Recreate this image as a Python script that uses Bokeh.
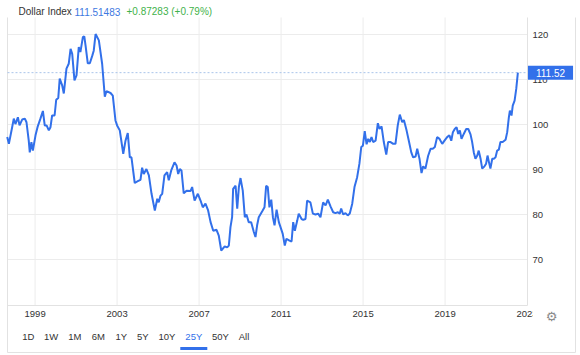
from bokeh.plotting import figure
from bokeh.models import ColumnDataSource, Range1d, FixedTicker, Label, BoxAnnotation
from bokeh.embed import file_html
from bokeh.resources import INLINE

# ---------------- data ----------------
years = [
    1997.64, 1997.72, 1997.88, 1997.96, 1998.04, 1998.16, 1998.24, 1998.37, 1998.50, 1998.58,
    1998.69, 1998.74, 1998.82, 1998.89, 1999.02, 1999.13, 1999.26, 1999.38, 1999.47, 1999.56,
    1999.67, 1999.75, 1999.83, 1999.95, 2000.03, 2000.13, 2000.20, 2000.32, 2000.40, 2000.53,
    2000.64, 2000.73, 2000.81, 2000.92, 2001.02, 2001.13, 2001.21, 2001.33, 2001.40, 2001.46,
    2001.57, 2001.67, 2001.79, 2001.86, 2001.95, 2002.11, 2002.27, 2002.40, 2002.48, 2002.68,
    2002.79, 2002.92, 2003.00, 2003.13, 2003.30, 2003.41, 2003.52, 2003.62, 2003.70, 2003.86,
    2004.01, 2004.14, 2004.22, 2004.30, 2004.43, 2004.55, 2004.68, 2004.84, 2004.96, 2005.03,
    2005.12, 2005.20, 2005.31, 2005.44, 2005.52, 2005.64, 2005.80, 2005.90, 2005.98, 2006.06,
    2006.14, 2006.25, 2006.39, 2006.58, 2006.66, 2006.78, 2006.94, 2007.07, 2007.18, 2007.31,
    2007.44, 2007.56, 2007.69, 2007.85, 2007.96, 2008.08, 2008.25, 2008.37, 2008.45, 2008.53,
    2008.61, 2008.66, 2008.78, 2008.86, 2008.94, 2009.02, 2009.13, 2009.23, 2009.31, 2009.42,
    2009.54, 2009.67, 2009.75, 2009.83, 2009.91, 2010.08, 2010.19, 2010.27, 2010.35, 2010.43,
    2010.52, 2010.60, 2010.68, 2010.78, 2010.89, 2011.00, 2011.08, 2011.18, 2011.26, 2011.41,
    2011.51, 2011.59, 2011.67, 2011.79, 2011.86, 2012.00, 2012.08, 2012.19, 2012.27, 2012.43,
    2012.55, 2012.68, 2012.81, 2012.92, 2013.05, 2013.17, 2013.28, 2013.41, 2013.54, 2013.65,
    2013.77, 2013.86, 2013.93, 2014.03, 2014.14, 2014.25, 2014.35, 2014.47, 2014.58, 2014.71,
    2014.82, 2014.91, 2014.99, 2015.08, 2015.17, 2015.25, 2015.33, 2015.41, 2015.49, 2015.61,
    2015.72, 2015.80, 2015.90, 2016.01, 2016.13, 2016.22, 2016.34, 2016.47, 2016.58, 2016.69,
    2016.79, 2016.91, 2016.99, 2017.12, 2017.23, 2017.35, 2017.44, 2017.56, 2017.64, 2017.75,
    2017.85, 2017.93, 2018.04, 2018.17, 2018.29, 2018.40, 2018.50, 2018.61, 2018.73, 2018.86,
    2018.97, 2019.10, 2019.21, 2019.30, 2019.38, 2019.47, 2019.56, 2019.64, 2019.72, 2019.80,
    2019.91, 2020.03, 2020.13, 2020.24, 2020.32, 2020.40, 2020.48, 2020.57, 2020.64, 2020.73,
    2020.81, 2020.92, 2021.00, 2021.07, 2021.13, 2021.21, 2021.30, 2021.38, 2021.46, 2021.54,
    2021.62, 2021.70, 2021.81, 2021.95, 2022.03, 2022.11, 2022.16, 2022.24, 2022.30, 2022.39,
    2022.47, 2022.55,
]
dollar_index = [
    97.2, 95.7, 99.4, 101.3, 100.1, 101.6, 99.8, 101.1, 101.3, 100.5,
    96.4, 93.8, 96.1, 94.2, 97.6, 99.6, 101.3, 103.0, 99.8, 99.8,
    98.7, 99.4, 102.0, 102.0, 105.5, 105.9, 110.2, 108.7, 106.9, 112.4,
    113.5, 116.8, 115.7, 109.8, 110.9, 117.2, 116.1, 119.4, 119.6, 117.6,
    113.6, 113.6, 115.3, 116.4, 120.1, 118.7, 113.5, 106.2, 107.4, 107.0,
    106.4, 100.9, 99.8, 98.7, 93.5, 96.4, 98.1, 92.7, 92.7, 87.0,
    87.4, 87.7, 90.4, 89.0, 90.1, 88.7, 84.6, 80.9, 83.5, 82.7,
    84.2, 84.6, 88.7, 89.4, 87.6, 89.8, 91.6, 90.9, 89.0, 90.1,
    89.8, 84.7, 85.3, 85.2, 86.1, 83.1, 84.6, 83.1, 81.6, 82.4,
    80.9, 78.3, 76.4, 76.6, 75.3, 72.0, 72.9, 72.7, 73.1, 77.2,
    79.4, 85.7, 86.4, 81.3, 86.1, 88.1, 85.3, 79.4, 80.0, 78.3,
    78.3, 76.1, 75.0, 77.6, 79.4, 80.7, 81.6, 86.4, 86.1, 81.6,
    83.3, 79.4, 77.6, 81.1, 78.3, 76.8, 75.7, 73.1, 74.6, 74.2,
    74.0, 78.3, 76.4, 78.7, 80.2, 79.0, 78.8, 79.0, 83.1, 82.7,
    80.2, 80.0, 80.2, 79.4, 82.7, 82.0, 83.3, 81.8, 80.5, 80.3,
    80.5, 80.2, 81.3, 80.0, 80.3, 79.8, 80.2, 82.4, 86.1, 88.3,
    91.3, 95.0, 95.3, 98.5, 95.6, 96.8, 96.1, 97.2, 96.1, 96.4,
    100.3, 99.0, 99.6, 96.1, 93.3, 96.1, 96.1, 95.7, 95.7, 99.8,
    102.2, 100.5, 101.0, 98.7, 96.4, 93.8, 92.7, 92.9, 94.6, 92.4,
    89.2, 90.7, 90.2, 93.0, 94.6, 94.6, 95.0, 97.2, 96.8, 95.7,
    96.4, 97.2, 97.6, 96.4, 98.3, 99.0, 99.4, 97.9, 98.7, 96.8,
    97.9, 99.0, 99.0, 97.8, 96.1, 93.8, 92.4, 93.1, 94.2, 92.4,
    90.2, 90.7, 91.3, 93.1, 91.8, 90.2, 92.4, 92.4, 92.7, 94.2,
    94.4, 96.1, 96.1, 96.6, 98.3, 101.6, 103.1, 102.0, 104.2, 105.3,
    107.9, 111.52,
]
title_name = "Dollar Index"
last_value = "111.51483"
change_text = "+0.87283 (+0.79%)"
last_tag = 111.52
x_ticks = [1999, 2003, 2007, 2011, 2015, 2019, 2023]
y_ticks = [70, 80, 90, 100, 110, 120]
range_buttons = ["1D", "1W", "1M", "6M", "1Y", "5Y", "10Y", "25Y", "50Y", "All"]
active_button = "25Y"

# ---------------- layout / styling ----------------
W, H = 580, 355
BLUE = "#3270ea"
FONT = "Liberation Sans"
TXT = "#333333"
GRID = "#ececec"
EDGE = "#e2e2e2"

# plot box (data units) and the canvas-wide ranges around it
PX0, PX1 = 1997.654, 2023.02      # left / right edge of the chart area
PY0, PY1 = 59.78, 123.78          # bottom / top edge of the chart area
BOX_BOTTOM = 49.33                # bottom border of the widget
BOX_RIGHT = 2025.36               # right border of the widget

p = figure(width=W, height=H, output_backend="svg", toolbar_location=None, title=None,
           x_range=Range1d(1997.312, 2025.605), y_range=Range1d(48.667, 127.556),
           min_border_left=0, min_border_right=0, min_border_top=0, min_border_bottom=0,
           y_axis_location="right")
p.background_fill_color = "white"
p.border_fill_color = "white"
p.outline_line_color = None
p.xgrid.visible = False
p.ygrid.visible = False

# grid lines (from tick arrays, through the scales)
p.segment(x0=x_ticks[:-1], x1=x_ticks[:-1], y0=[PY0] * (len(x_ticks) - 1),
          y1=[PY1] * (len(x_ticks) - 1), line_color=GRID, line_width=1)
p.segment(x0=[PX0] * len(y_ticks), x1=[PX1] * len(y_ticks), y0=y_ticks, y1=y_ticks,
          line_color=GRID, line_width=1)
# chart edges and widget border
p.segment(x0=[PX1, PX0, PX0, PX0, BOX_RIGHT], x1=[PX1, PX1, PX0, BOX_RIGHT, BOX_RIGHT],
          y0=[PY0, PY0, BOX_BOTTOM, BOX_BOTTOM, BOX_BOTTOM],
          y1=[PY1, PY0, PY1, BOX_BOTTOM, PY1], line_color=EDGE, line_width=1)

# last value dotted line
p.segment(x0=[PX0], x1=[PX1], y0=[last_tag], y1=[last_tag], line_color="#a9c4ea",
          line_dash="2 2", line_width=1)

src = ColumnDataSource(dict(x=years, y=dollar_index))
p.line("x", "y", source=src, line_color=BLUE, line_width=2)

# axes, placed at the edges of the chart area
xa = p.xaxis[0]
xa.fixed_location = PY0
xa.ticker = FixedTicker(ticks=x_ticks)
xa.minor_tick_line_color = None
xa.major_tick_line_color = None
xa.major_tick_in = 0
xa.major_tick_out = 0
xa.axis_line_color = None
xa.major_label_standoff = 6
xa.major_label_text_font = FONT
xa.major_label_text_font_size = "9.5px"
xa.major_label_text_color = TXT

ya = p.yaxis[0]
ya.fixed_location = PX1
ya.ticker = FixedTicker(ticks=y_ticks)
ya.minor_tick_line_color = None
ya.major_tick_line_color = None
ya.major_tick_in = 0
ya.major_tick_out = 0
ya.axis_line_color = None
ya.major_label_standoff = 5
ya.major_label_text_font = FONT
ya.major_label_text_font_size = "9.5px"
ya.major_label_text_color = TXT

# the right part of the last year label is hidden behind the axis area
p.add_layout(BoxAnnotation(left=532.5, right=573, bottom=H - 328, top=H - 306,
                           left_units="screen", right_units="screen",
                           top_units="screen", bottom_units="screen",
                           fill_color="white", fill_alpha=1, line_color=None))

# price tag
p.add_layout(Label(x=550, y=last_tag, x_units="screen", y_units="data",
                   text=f"{last_tag:.2f}", text_color="white", text_font=FONT,
                   text_font_size="10px", text_align="center", text_baseline="middle",
                   background_fill_color=BLUE,
                   padding=dict(left=8, right=8, top=3, bottom=3)))

# title line
for tx, txt, col in [(18, title_name, TXT), (74, last_value, "#3e78df"),
                     (126, change_text, "#3fb24b")]:
    p.add_layout(Label(x=tx, y=H - 11, x_units="screen", y_units="screen", text=txt,
                       text_color=col, text_font=FONT, text_font_size="10px",
                       text_baseline="middle"))

# range buttons
btn_x = [27.9, 50.6, 74.3, 97.8, 120.8, 142.4, 166.5, 193.3, 220, 243.5]
for bx, lab in zip(btn_x, range_buttons):
    p.add_layout(Label(x=bx, y=H - 336, x_units="screen", y_units="screen", text=lab,
                       text_color=BLUE if lab == active_button else TXT, text_font=FONT,
                       text_font_size="9.5px", text_align="center", text_baseline="middle"))
ai = range_buttons.index(active_button)
p.add_layout(BoxAnnotation(left=btn_x[ai] - 13.5, right=btn_x[ai] + 13.5,
                           top=H - 346.5, bottom=H - 349.5,
                           left_units="screen", right_units="screen",
                           top_units="screen", bottom_units="screen",
                           fill_color=BLUE, fill_alpha=1, line_color=None))

# settings gear
p.add_layout(Label(x=551, y=H - 316, x_units="screen", y_units="screen", text="\u2699",
                   text_color="#8a8a8a", text_font="DejaVu Sans", text_font_size="13px",
                   text_align="center", text_baseline="middle"))

open("out.html", "w").write(file_html(p, INLINE))
